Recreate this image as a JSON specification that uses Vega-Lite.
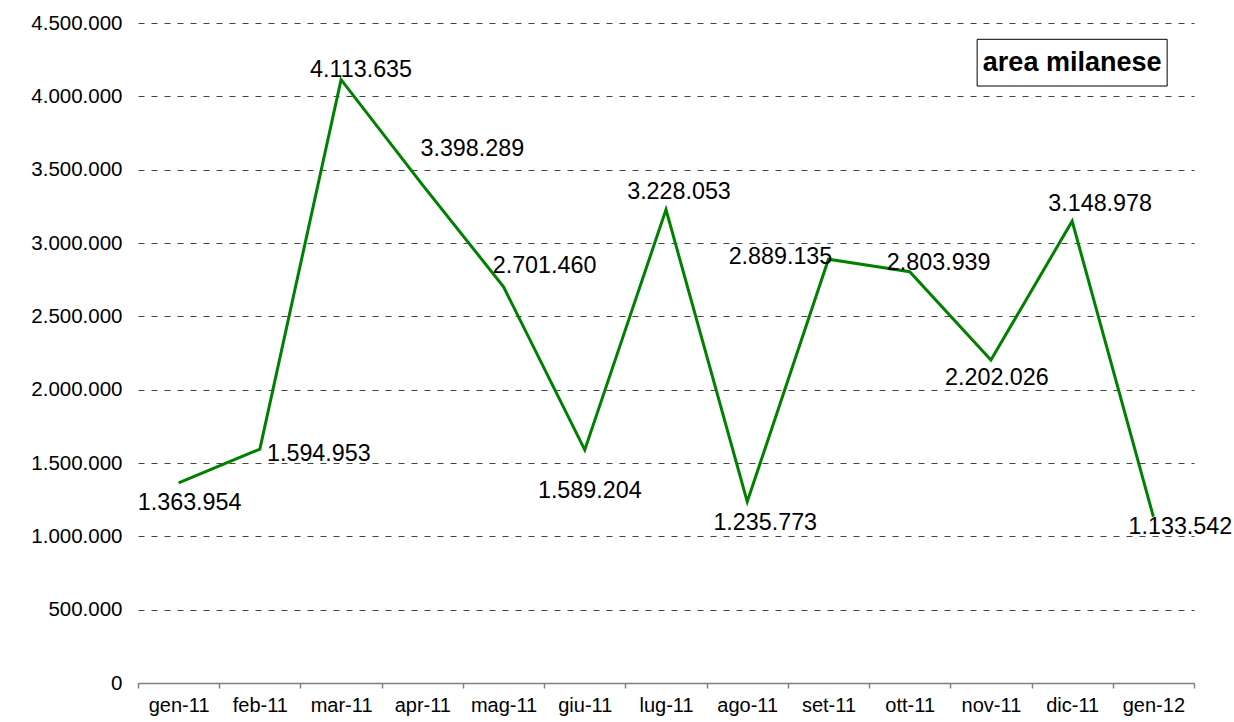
{
  "$schema": "https://vega.github.io/schema/vega-lite/v6.json",
  "width": 1056,
  "height": 660,
  "autosize": "none",
  "padding": {"left": 138, "top": 23, "right": 40, "bottom": 39},
  "background": "white",
  "config": {
    "view": {"stroke": null},
    "font": "Liberation Sans",
    "locale": {"number": {"decimal": ",", "thousands": ".", "grouping": [3], "currency": ["€", ""]}}
  },
  "data": {"values": [
    {"mese": "gen-11", "valore": 1363954},
    {"mese": "feb-11", "valore": 1594953},
    {"mese": "mar-11", "valore": 4113635},
    {"mese": "apr-11", "valore": 3398289},
    {"mese": "mag-11", "valore": 2701460},
    {"mese": "giu-11", "valore": 1589204},
    {"mese": "lug-11", "valore": 3228053},
    {"mese": "ago-11", "valore": 1235773},
    {"mese": "set-11", "valore": 2889135},
    {"mese": "ott-11", "valore": 2803939},
    {"mese": "nov-11", "valore": 2202026},
    {"mese": "dic-11", "valore": 3148978},
    {"mese": "gen-12", "valore": 1133542}
  ]},
  "encoding": {
    "x": {
      "field": "mese", "type": "nominal", "sort": null,
      "scale": {"type": "band", "paddingInner": 0, "paddingOuter": 0,
        "domain": ["gen-11","feb-11","mar-11","apr-11","mag-11","giu-11","lug-11","ago-11","set-11","ott-11","nov-11","dic-11","gen-12"]},
      "axis": {"title": null, "labelAngle": 0, "labelFontSize": 20, "labelColor": "black", "labelFont": "Liberation Sans",
        "domainColor": "#808080", "domainWidth": 1.5, "tickColor": "#808080", "tickWidth": 1.5, "tickSize": 5,
        "tickBand": "extent", "grid": false, "labelPadding": 7, "labelBaseline": "top"}
    },
    "y": {
      "field": "valore", "type": "quantitative",
      "scale": {"domain": [0, 4500000], "nice": false, "zero": true},
      "axis": {"title": null, "values": [0,500000,1000000,1500000,2000000,2500000,3000000,3500000,4000000,4500000],
        "format": ",d", "labelFontSize": 20.5, "labelColor": "black", "labelFont": "Liberation Sans",
        "domain": false, "ticks": false, "labelPadding": 16,
        "grid": true, "gridColor": "#444444", "gridWidth": 1, "gridDash": [6, 7]}
    }
  },
  "layer": [
    {"mark": {"type": "line", "color": "#008000", "strokeWidth": 3, "strokeJoin": "miter"}},
    {"transform": [{"filter": "datum.mese == 'gen-11'"}], "mark": {"type": "text", "fontSize": 23.3, "align": "center", "baseline": "middle", "dx": 11, "dy": 20}, "encoding": {"text": {"field": "valore", "format": ",d"}}},
    {"transform": [{"filter": "datum.mese == 'feb-11'"}], "mark": {"type": "text", "fontSize": 23.3, "align": "center", "baseline": "middle", "dx": 59, "dy": 5}, "encoding": {"text": {"field": "valore", "format": ",d"}}},
    {"transform": [{"filter": "datum.mese == 'mar-11'"}], "mark": {"type": "text", "fontSize": 23.3, "align": "center", "baseline": "middle", "dx": 20, "dy": -10}, "encoding": {"text": {"field": "valore", "format": ",d"}}},
    {"transform": [{"filter": "datum.mese == 'apr-11'"}], "mark": {"type": "text", "fontSize": 23.3, "align": "center", "baseline": "middle", "dx": 50, "dy": -36}, "encoding": {"text": {"field": "valore", "format": ",d"}}},
    {"transform": [{"filter": "datum.mese == 'mag-11'"}], "mark": {"type": "text", "fontSize": 23.3, "align": "center", "baseline": "middle", "dx": 41, "dy": -21}, "encoding": {"text": {"field": "valore", "format": ",d"}}},
    {"transform": [{"filter": "datum.mese == 'giu-11'"}], "mark": {"type": "text", "fontSize": 23.3, "align": "center", "baseline": "middle", "dx": 5, "dy": 41}, "encoding": {"text": {"field": "valore", "format": ",d"}}},
    {"transform": [{"filter": "datum.mese == 'lug-11'"}], "mark": {"type": "text", "fontSize": 23.3, "align": "center", "baseline": "middle", "dx": 13, "dy": -18}, "encoding": {"text": {"field": "valore", "format": ",d"}}},
    {"transform": [{"filter": "datum.mese == 'ago-11'"}], "mark": {"type": "text", "fontSize": 23.3, "align": "center", "baseline": "middle", "dx": 18, "dy": 21}, "encoding": {"text": {"field": "valore", "format": ",d"}}},
    {"transform": [{"filter": "datum.mese == 'set-11'"}], "mark": {"type": "text", "fontSize": 23.3, "align": "center", "baseline": "middle", "dx": -48, "dy": -2}, "encoding": {"text": {"field": "valore", "format": ",d"}}},
    {"transform": [{"filter": "datum.mese == 'ott-11'"}], "mark": {"type": "text", "fontSize": 23.3, "align": "center", "baseline": "middle", "dx": 29, "dy": -9}, "encoding": {"text": {"field": "valore", "format": ",d"}}},
    {"transform": [{"filter": "datum.mese == 'nov-11'"}], "mark": {"type": "text", "fontSize": 23.3, "align": "center", "baseline": "middle", "dx": 6, "dy": 18}, "encoding": {"text": {"field": "valore", "format": ",d"}}},
    {"transform": [{"filter": "datum.mese == 'dic-11'"}], "mark": {"type": "text", "fontSize": 23.3, "align": "center", "baseline": "middle", "dx": 28, "dy": -17}, "encoding": {"text": {"field": "valore", "format": ",d"}}},
    {"transform": [{"filter": "datum.mese == 'gen-12'"}], "mark": {"type": "text", "fontSize": 23.3, "align": "center", "baseline": "middle", "dx": 27, "dy": 10}, "encoding": {"text": {"field": "valore", "format": ",d"}}},
    {
      "data": {"values": [{"mese": "dic-11", "top": 4388864, "bottom": 4070454, "centro": 4229659, "titolo": "area milanese"}]},
      "mark": {"type": "rect", "fill": "white", "stroke": "black", "strokeWidth": 1, "width": 190},
      "encoding": {
        "x": {"field": "mese", "type": "nominal"},
        "y": {"field": "top", "type": "quantitative"},
        "y2": {"field": "bottom"}
      }
    },
    {
      "data": {"values": [{"mese": "dic-11", "top": 4388864, "bottom": 4070454, "centro": 4229659, "titolo": "area milanese"}]},
      "mark": {"type": "text", "fontSize": 27, "fontWeight": "bold", "align": "center", "baseline": "middle", "color": "black"},
      "encoding": {
        "x": {"field": "mese", "type": "nominal"},
        "y": {"field": "centro", "type": "quantitative"},
        "text": {"field": "titolo"}
      }
    }
  ]
}
